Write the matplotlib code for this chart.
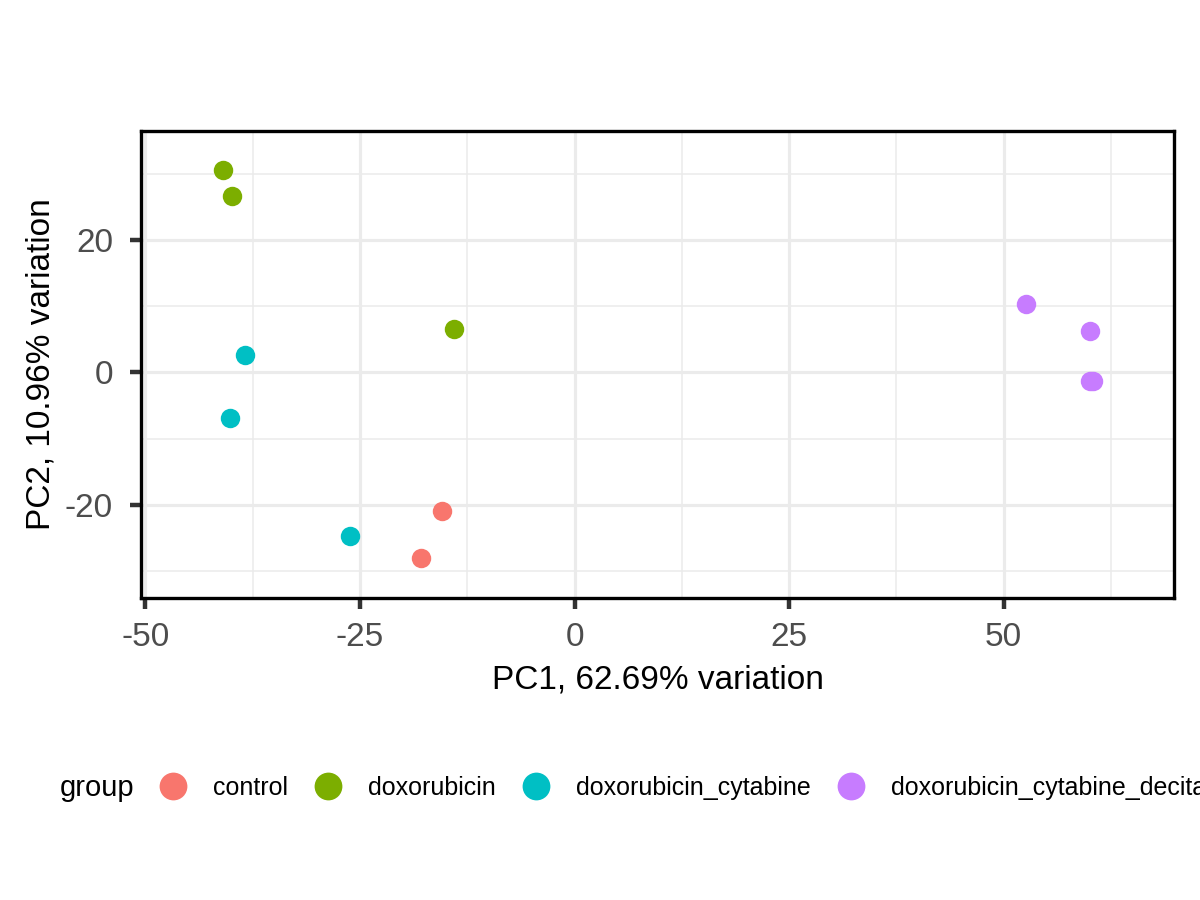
import matplotlib
matplotlib.use("Agg")
import matplotlib.pyplot as plt
from matplotlib.lines import Line2D

plt.rcParams['font.family'] = ['Liberation Sans', 'DejaVu Sans']
plt.rcParams['axes.unicode_minus'] = False

groups = ["control", "doxorubicin", "doxorubicin_cytabine", "doxorubicin_cytabine_decitabine"]
colors = ["#F8766D", "#7CAE00", "#00BFC4", "#C77CFF"]

pc1_control = [-15.5, -17.9]
pc2_control = [-20.9, -28.1]
pc1_dox = [-41.0, -39.9, -14.0]
pc2_dox = [30.6, 26.7, 6.6]
pc1_cyt = [-38.4, -40.1, -26.2]
pc2_cyt = [2.6, -6.9, -24.8]
pc1_dec = [52.6, 60.1, 60.05, 60.4]
pc2_dec = [10.3, 6.2, -1.3, -1.3]

pc1 = [pc1_control, pc1_dox, pc1_cyt, pc1_dec]
pc2 = [pc2_control, pc2_dox, pc2_cyt, pc2_dec]

x_major = [-50, -25, 0, 25, 50]
x_minor = [-37.5, -12.5, 12.5, 37.5, 62.5]
y_major = [-20, 0, 20]
y_minor = [-30, -10, 10, 30]

fig = plt.figure(figsize=(12, 9), dpi=100)
ax = fig.add_axes([0.1173, 0.3361, 0.8613, 0.5189])

for xs, ys, c in zip(pc1, pc2, colors):
    ax.scatter(xs, ys, s=196, color=c, linewidths=0, zorder=3)

ax.set_xlim(-50.55, 69.9)
ax.set_ylim(-34.04, 36.6)
ax.set_xticks(x_major)
ax.set_xticks(x_minor, minor=True)
ax.set_yticks(y_major)
ax.set_yticks(y_minor, minor=True)
ax.set_xticklabels([str(v) for v in x_major])
ax.set_yticklabels([str(v) for v in y_major])

ax.set_axisbelow(True)
ax.grid(which='major', color='#EBEBEB', linewidth=2.3)
ax.grid(which='minor', color='#EBEBEB', linewidth=1.15)
for sp in ax.spines.values():
    sp.set_linewidth(2.4)
    sp.set_color('black')
    sp.set_zorder(4)

ax.tick_params(which='minor', length=0)
ax.tick_params(axis='x', which='major', length=8, width=3.2, color='#333333',
               pad=9.5, labelsize=24, labelcolor='#4D4D4D')
ax.tick_params(axis='y', which='major', length=8, width=3.2, color='#333333',
               pad=12, labelsize=24, labelcolor='#4D4D4D')

ax.set_xlabel("PC1, 62.69% variation", fontsize=24, color='black')
ax.set_ylabel("PC2, 10.96% variation", fontsize=24, color='black')
ax.xaxis.set_label_coords(0.5, -0.1424)
ax.yaxis.set_label_coords(-0.0811, 0.5)

handles = [Line2D([], [], marker='o', linestyle='none', markersize=20,
                  markerfacecolor=c, markeredgewidth=0) for c in colors]
fig.legend(handles, groups, loc='center left', bbox_to_anchor=(0.1327, 0.1245),
           ncol=4, frameon=False, fontsize=18, borderpad=0, borderaxespad=0,
           handlelength=1.1, handletextpad=1.05, columnspacing=1.06)
fig.text(0.05, 0.1155, "group", fontsize=21, va='baseline', ha='left')

fig.savefig("out.png", dpi=100)
